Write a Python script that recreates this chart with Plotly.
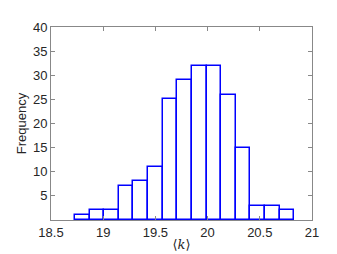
import plotly.graph_objects as go

bin_edges = [18.73, 18.87, 19.01, 19.15, 19.29, 19.43, 19.57, 19.71,
             19.85, 19.99, 20.13, 20.27, 20.41, 20.55, 20.69, 20.83]
counts = [1, 2, 2, 7, 8, 11, 25, 29, 32, 32, 26, 15, 3, 3, 2]
x_ticks = [18.5, 19, 19.5, 20, 20.5, 21]
x_labels = ["18.5", "19", "19.5", "20", "20.5", "21"]
y_ticks = [5, 10, 15, 20, 25, 30, 35, 40]

centers = [(a + b) / 2 for a, b in zip(bin_edges[:-1], bin_edges[1:])]
widths = [b - a for a, b in zip(bin_edges[:-1], bin_edges[1:])]

fig = go.Figure(go.Bar(
    x=centers, y=counts, width=widths,
    marker=dict(color="white", line=dict(color="#0000ff", width=1.5)),
))

axis_style = dict(
    showline=True, linecolor="#888888", linewidth=1, mirror="ticks",
    ticks="inside", ticklen=4, tickcolor="#888888", showgrid=False,
    zeroline=False, tickfont=dict(family="Liberation Sans", size=13, color="#262626"),
)

fig.update_layout(
    width=337, height=254,
    margin=dict(l=43, r=33, t=19, b=34),
    plot_bgcolor="white", paper_bgcolor="white",
    showlegend=False, bargap=0,
    xaxis=dict(range=[18.5, 21], tickvals=x_ticks, ticktext=x_labels,
               title=dict(text="⟨<i>k</i>⟩", standoff=1,
                          font=dict(family="DejaVu Serif", size=13, color="#262626")),
               **axis_style),
    yaxis=dict(range=[0, 40], tickvals=y_ticks,
               title=dict(text="Frequency", standoff=3,
                          font=dict(family="Liberation Sans", size=13, color="#262626")),
               **axis_style),
)

fig.write_html("out.html")
